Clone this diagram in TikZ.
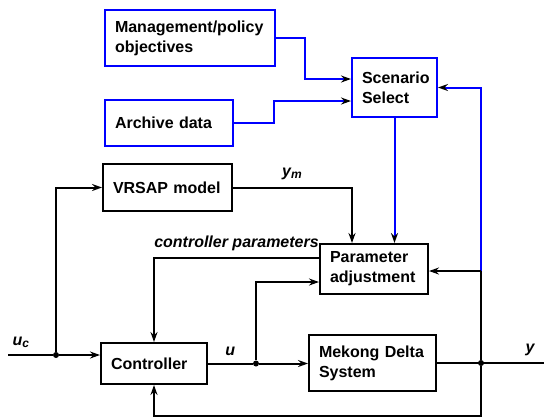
\documentclass[tikz,border=0pt]{standalone}
\usepackage{fontspec}
\setmainfont{Liberation Sans}
\usetikzlibrary{arrows.meta,calc}

\tikzset{
  blk/.style={draw, line width=1pt, align=left, inner xsep=5pt, inner ysep=2pt,
    font=\fontsize{8}{10}\selectfont\bfseries},
  blublk/.style={blk, draw=blue},
  wire/.style={line width=1pt},
  arr/.style={wire, -{Stealth[black,length=5pt,width=3.5pt]}},
  bluwire/.style={line width=1pt, draw=blue},
  bluarr/.style={bluwire, -{Stealth[black,length=5pt,width=3.5pt]}},
  lbl/.style={font=\fontsize{8}{10}\selectfont\bfseries\itshape},
  dot/.style={circle, fill, inner sep=0pt, minimum size=3pt}
}

\begin{document}
\begin{tikzpicture}[x=0.5pt,y=-0.5pt]
  \useasboundingbox (0,0) rectangle (544,419);

  % Draw the blocks
  \node[blublk, text width=75pt, minimum height=28pt] (mgmt) at (190,38) {Management/policy\\objectives};
  \node[blublk, text width=54pt, minimum height=23pt] (arch) at (169,123) {Archive data};
  \node[blublk, text width=32.5pt, minimum height=29.5pt] (scen) at (394.5,87.5) {Scenario\\Select};
  \node[blk, text width=54.5pt, minimum height=23.5pt] (vrsap) at (167.5,187.5) {VRSAP model};
  \node[blk, text width=44pt, minimum height=25pt] (par) at (374,269) {Parameter\\adjustment};
  \node[blk, text width=43pt, minimum height=20.5pt] (ctrl) at (154,363.5) {Controller};
  \node[blk, text width=53.5pt, minimum height=28pt] (mek) at (372.5,363) {Mekong Delta\\System};

  % Junctions and free ends
  \coordinate (ucin) at (8,355);
  \coordinate (yout) at (544,363);
  \node[dot] (jc) at (56,355) {};
  \node[dot] (ju) at (256,363.5) {};
  \node[dot] (jy) at (481,363) {};
  \coordinate (pfb) at (481,271);

  % Inputs to scenario select
  \draw[bluarr] (mgmt.east) -| (305,79) -- (scen.west |- 305,79);
  \draw[bluarr] (arch.east) -| (274,101) -- (scen.west |- 274,101);
  \draw[bluarr] (scen.south) -- (scen.south |- par.north);
  \draw[bluarr] (pfb) |- (scen.east);

  % Reference input and model
  \draw[wire] (ucin) -- (jc) node[lbl, pos=0.3, above] {u\textsubscript{c}};
  \draw[arr] (jc) -- (ctrl.west |- jc);
  \draw[arr] (jc) |- (vrsap.west);
  \draw[arr] (vrsap.east) -| ($(par.north)+(-22,0)$) node[lbl, pos=0.25, above] {y\textsubscript{m}};

  % Controller, plant and feedback
  \draw[wire] (ctrl.east |- ju) -- (ju) node[lbl, midway, above] {u};
  \draw[arr] (ju) -- (mek.west |- ju);
  \draw[arr] (ju) |- ($(par.west)+(0,13)$);
  \draw[arr] ($(par.west)+(0,-11)$) -| (ctrl.north) node[lbl, pos=0.25, above] {controller parameters};
  \draw[wire] (mek.east) -- (yout) node[lbl, pos=0.87, above] {y};
  \draw[arr] (jy) -- ++(0,53) -| (ctrl.south);
  \draw[wire] (jy) -- (pfb);
  \draw[arr] (pfb) -- (par.east |- pfb);
\end{tikzpicture}
\end{document}
